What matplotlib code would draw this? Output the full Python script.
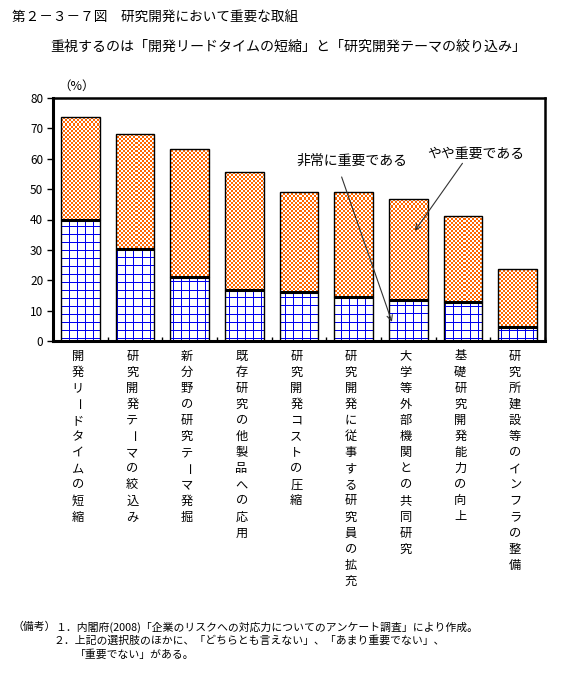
import matplotlib
matplotlib.use("Agg")
import matplotlib.pyplot as plt
import numpy as np
from matplotlib.colors import ListedColormap
from matplotlib.transforms import blended_transform_factory

plt.rcParams["font.family"] = ["Noto Sans CJK JP", "DejaVu Sans"]

# ------------------------------------------------------------------
# Data
# ------------------------------------------------------------------
categories = [
    "開発リードタイムの短縮",
    "研究開発テーマの絞込み",
    "新分野の研究テーマ発掘",
    "既存研究の他製品への応用",
    "研究開発コストの圧縮",
    "研究開発に従事する研究員の拡充",
    "大学等外部機関との共同研究",
    "基礎研究開発能力の向上",
    "研究所建設等のインフラの整備",
]
very_important = [39.8, 30.4, 21.2, 16.9, 16.2, 14.6, 13.5, 12.7, 4.6]
total_important = [73.9, 68.0, 63.1, 55.8, 49.2, 49.2, 46.9, 41.0, 23.6]
somewhat_important = [t - v for t, v in zip(total_important, very_important)]

yticks = [0, 10, 20, 30, 40, 50, 60, 70, 80]

title = "第２－３－７図　研究開発において重要な取組"
subtitle = "重視するのは「開発リードタイムの短縮」と「研究開発テーマの絞り込み」"
notes = [
    "１．内閣府(2008)「企業のリスクへの対応力についてのアンケート調査」により作成。",
    "２．上記の選択肢のほかに、「どちらとも言えない」、「あまり重要でない」、",
    "「重要でない」がある。",
]

# ------------------------------------------------------------------
# Figure
# ------------------------------------------------------------------
W, H = 587, 677
fig = plt.figure(figsize=(W / 100, H / 100), dpi=100)
ax_l, ax_r, ax_t, ax_b = 53, 545, 98, 341
ax = fig.add_axes([ax_l / W, 1 - ax_b / H, (ax_r - ax_l) / W, (ax_b - ax_t) / H])

x = np.arange(len(categories))
bw = 0.71
orange = "#FF6600"
blue = "#0000EE"
extent = (-0.5, 8.5, 0, 80)
ny, nx = ax_b - ax_t, ax_r - ax_l

# fill textures at pixel resolution of the axes
rows, cols = np.indices((ny, nx))
grid_tex = ((rows % 8 == 0) | (cols % 8 == 0)).astype(int)
checker_tex = ((rows // 2 + cols // 2) % 2).astype(int)

# lower segment: white with blue grid
lower = ax.bar(x, very_important, width=bw, color="none", edgecolor="black",
               linewidth=1.0, zorder=3)
for patch in lower:
    im = ax.imshow(grid_tex, cmap=ListedColormap(["white", blue]), extent=extent,
                   aspect="auto", interpolation="nearest", zorder=1)
    im.set_clip_path(patch)

# upper segment: orange / white checker
upper = ax.bar(x, somewhat_important, bottom=very_important, width=bw,
               color="none", edgecolor="black", linewidth=1.0, zorder=3)
for patch in upper:
    im = ax.imshow(checker_tex, cmap=ListedColormap(["white", orange]), extent=extent,
                   aspect="auto", interpolation="nearest", zorder=1)
    im.set_clip_path(patch)

# thick boundary between the two segments
ax.hlines(very_important, x - bw / 2, x + bw / 2, colors="black",
          linewidth=2.2, zorder=4)

ax.set_xlim(-0.5, 8.5)
ax.set_ylim(0, 80)
ax.set_yticks(yticks)
ax.set_yticklabels([str(v) for v in yticks], fontsize=8.5)
ax.set_xticks(np.arange(-0.5, 9, 1))
ax.set_xticklabels([])
ax.tick_params(axis="x", direction="in", length=3, width=1)
ax.tick_params(axis="y", direction="out", length=4, width=1, pad=3)
for side in ["left", "bottom"]:
    ax.spines[side].set_linewidth(2.2)
for side in ["top", "right"]:
    ax.spines[side].set_linewidth(1.8)

# vertical category labels, one character per line
trans = blended_transform_factory(ax.transData, fig.transFigure)
for i, label in enumerate(categories):
    for j, ch in enumerate(label):
        ypx = 356 + j * 16.1
        ax.text(i - 0.05, 1 - ypx / H, ch, transform=trans, fontsize=8.8,
                ha="center", va="center",
                rotation=-90 if ch == "ー" else 0, clip_on=False)

# annotations
arrow = dict(arrowstyle="->", color="#333333", lw=0.8, shrinkA=0, shrinkB=0)
ax.annotate("", xy=(5.70, 6.3), xytext=(4.78, 54.0), arrowprops=arrow, zorder=5)
ax.text(4.96, 59.2, "非常に重要である", fontsize=10, ha="center", va="center")
ax.annotate("", xy=(6.12, 36.3), xytext=(6.99, 58.5), arrowprops=arrow, zorder=5)
ax.text(7.23, 61.5, "やや重要である", fontsize=10, ha="center", va="center")

# titles and notes
fig.text(12 / W, 1 - 17 / H, title, fontsize=9.8, ha="left", va="center")
fig.text(50 / W, 1 - 47 / H, subtitle, fontsize=10.1, ha="left", va="center")
fig.text(77 / W, 1 - 86 / H, "（%）", fontsize=9, ha="center", va="center")

fig.text(12 / W, 1 - 627 / H, "（備考）", fontsize=7.8, ha="left", va="center")
fig.text(55 / W, 1 - 627 / H, notes[0], fontsize=7.8, ha="left", va="center")
fig.text(53 / W, 1 - 641 / H, notes[1], fontsize=7.8, ha="left", va="center")
fig.text(75 / W, 1 - 655 / H, notes[2], fontsize=7.8, ha="left", va="center")

fig.savefig("out.png", dpi=100)
